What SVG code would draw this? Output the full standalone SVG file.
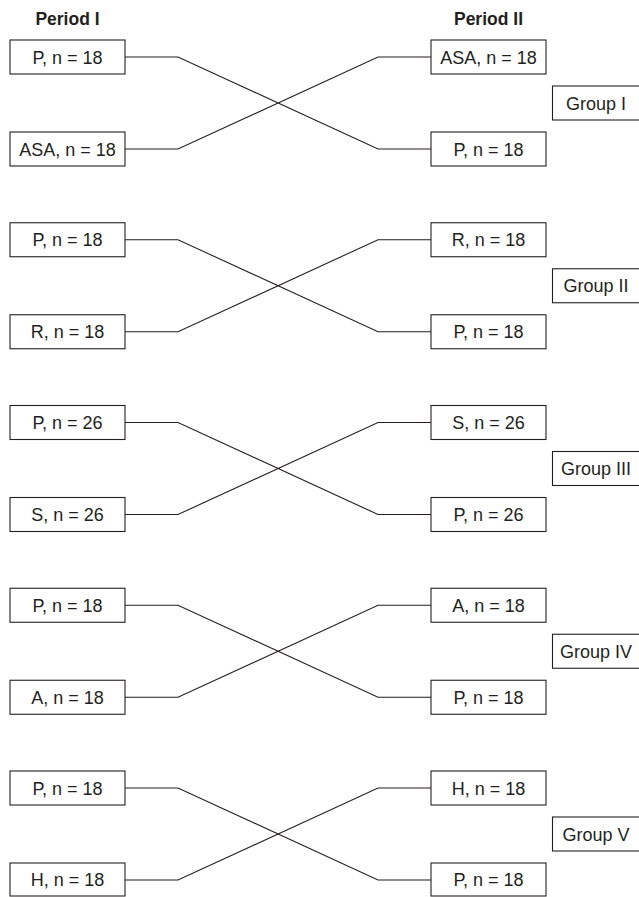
<svg xmlns="http://www.w3.org/2000/svg" width="639" height="897" viewBox="0 0 639 897">
<style>
.box{fill:#fff;stroke:#231f20;stroke-width:1.1}
.t{font-family:"Liberation Sans",Arial,sans-serif;font-size:18px;fill:#231f20;text-anchor:middle}
.h{font-family:"Liberation Sans",Arial,sans-serif;font-size:17.5px;font-weight:bold;fill:#231f20;text-anchor:middle}
.c{fill:none;stroke:#231f20;stroke-width:1.1}
</style>
<rect width="639" height="897" fill="#fff"/>
<text class="h" x="67.5" y="24.5">Period I</text>
<text class="h" x="488.5" y="24.5">Period II</text>
<g id="connectors">
<path class="c" d="M125,57H178L378,149H431M125,149H178L378,57H431"/>
<path class="c" d="M125,239.75H178L378,331.75H431M125,331.75H178L378,239.75H431"/>
<path class="c" d="M125,422.5H178L378,514.5H431M125,514.5H178L378,422.5H431"/>
<path class="c" d="M125,605.25H178L378,697.25H431M125,697.25H178L378,605.25H431"/>
<path class="c" d="M125,788H178L378,880H431M125,880H178L378,788H431"/>
</g>
<g id="g1l1"><rect class="box" x="10" y="40" width="115" height="34"/><text class="t" x="67.5" y="63.5">P, n = 18</text></g>
<g id="g1l2"><rect class="box" x="10" y="132" width="115" height="34"/><text class="t" x="67.5" y="155.5">ASA, n = 18</text></g>
<g id="g1r1"><rect class="box" x="431" y="40" width="115" height="34"/><text class="t" x="488.5" y="63.5">ASA, n = 18</text></g>
<g id="g1r2"><rect class="box" x="431" y="132" width="115" height="34"/><text class="t" x="488.5" y="155.5">P, n = 18</text></g>
<g id="group1"><rect class="box" x="552.5" y="86" width="90" height="34"/><text class="t" x="596" y="109.5">Group I</text></g>

<g id="g2l1"><rect class="box" x="10" y="222.75" width="115" height="34"/><text class="t" x="67.5" y="246.25">P, n = 18</text></g>
<g id="g2l2"><rect class="box" x="10" y="314.75" width="115" height="34"/><text class="t" x="67.5" y="338.25">R, n = 18</text></g>
<g id="g2r1"><rect class="box" x="431" y="222.75" width="115" height="34"/><text class="t" x="488.5" y="246.25">R, n = 18</text></g>
<g id="g2r2"><rect class="box" x="431" y="314.75" width="115" height="34"/><text class="t" x="488.5" y="338.25">P, n = 18</text></g>
<g id="group2"><rect class="box" x="552.5" y="268.75" width="90" height="34"/><text class="t" x="596" y="292.25">Group II</text></g>

<g id="g3l1"><rect class="box" x="10" y="405.5" width="115" height="34"/><text class="t" x="67.5" y="429">P, n = 26</text></g>
<g id="g3l2"><rect class="box" x="10" y="497.5" width="115" height="34"/><text class="t" x="67.5" y="521">S, n = 26</text></g>
<g id="g3r1"><rect class="box" x="431" y="405.5" width="115" height="34"/><text class="t" x="488.5" y="429">S, n = 26</text></g>
<g id="g3r2"><rect class="box" x="431" y="497.5" width="115" height="34"/><text class="t" x="488.5" y="521">P, n = 26</text></g>
<g id="group3"><rect class="box" x="552.5" y="451.5" width="90" height="34"/><text class="t" x="596" y="475">Group III</text></g>

<g id="g4l1"><rect class="box" x="10" y="588.25" width="115" height="34"/><text class="t" x="67.5" y="611.75">P, n = 18</text></g>
<g id="g4l2"><rect class="box" x="10" y="680.25" width="115" height="34"/><text class="t" x="67.5" y="703.75">A, n = 18</text></g>
<g id="g4r1"><rect class="box" x="431" y="588.25" width="115" height="34"/><text class="t" x="488.5" y="611.75">A, n = 18</text></g>
<g id="g4r2"><rect class="box" x="431" y="680.25" width="115" height="34"/><text class="t" x="488.5" y="703.75">P, n = 18</text></g>
<g id="group4"><rect class="box" x="552.5" y="634.25" width="90" height="34"/><text class="t" x="596" y="657.75">Group IV</text></g>

<g id="g5l1"><rect class="box" x="10" y="771" width="115" height="34"/><text class="t" x="67.5" y="794.5">P, n = 18</text></g>
<g id="g5l2"><rect class="box" x="10" y="863" width="115" height="33"/><text class="t" x="67.5" y="885.5">H, n = 18</text></g>
<g id="g5r1"><rect class="box" x="431" y="771" width="115" height="34"/><text class="t" x="488.5" y="794.5">H, n = 18</text></g>
<g id="g5r2"><rect class="box" x="431" y="863" width="115" height="33"/><text class="t" x="488.5" y="885.5">P, n = 18</text></g>
<g id="group5"><rect class="box" x="552.5" y="817" width="90" height="34"/><text class="t" x="596" y="840.5">Group V</text></g>
</svg>
